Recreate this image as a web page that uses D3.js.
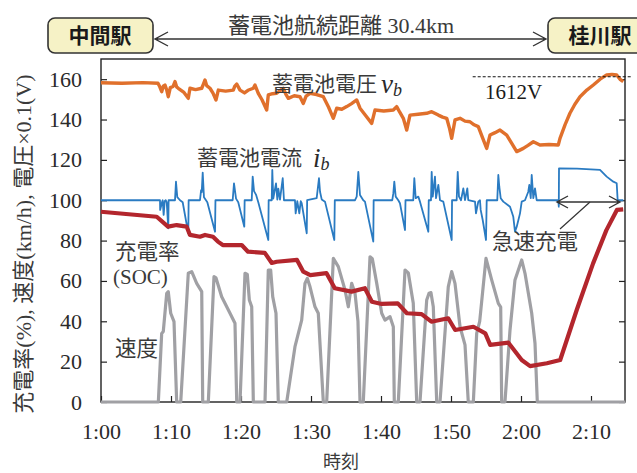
<!DOCTYPE html>
<html>
<head>
<meta charset="utf-8">
<script src="https://cdn.jsdelivr.net/npm/d3@7"></script>
<style>
  body { margin: 0; background: #fff; }
  svg { display: block; }
  .jp { font-family: "Noto Sans CJK JP", sans-serif; fill: #3a3a3a; }
  .sf { font-family: "Liberation Serif", "Noto Sans CJK JP", serif; fill: #2a2a2a; }
</style>
</head>
<body>
<svg id="chart" width="637" height="473"></svg>
<script>
// minutes after 1:00 -> value
let xTickLabels = ["1:00", "1:10", "1:20", "1:30", "1:40", "1:50", "2:00", "2:10"];
let yTicks = [0, 20, 40, 60, 80, 100, 120, 140, 160];

// 蓄電池電圧 (x0.1 V)
let voltage = [[0,158.2],[3,158.0],[6,158.3],[8.14,158],[8.4,156.2],[8.67,153.8],[8.9,156.5],[9.14,157.1],[9.4,154.5],[9.61,151.3],[9.9,155.8],[10.3,156.4],[10.57,158.8],[10.8,156.2],[11.04,155.5],[11.8,153.6],[12.47,150.5],[12.71,155.5],[13.5,154.8],[14.39,155.5],[14.6,157.3],[14.86,159.6],[15.1,156.8],[15.57,155.5],[16.0,153.1],[16.43,149.7],[16.76,154.6],[17.8,154.1],[18.9,154.6],[19.1,156.4],[19.39,157.6],[19.86,154.6],[20.5,153.2],[21.0,154.5],[21.76,155.5],[22.0,157.1],[22.47,153],[23.0,149.8],[23.67,144.7],[23.9,152.2],[24.5,152.8],[25.1,153],[25.6,154.4],[26.04,155.5],[26.4,152.6],[26.76,150.5],[27.6,151.8],[28.43,151.3],[28.9,148],[29.3,151.6],[29.86,153],[30.8,152.4],[31.76,151.3],[32.5,146.2],[33.19,140.6],[33.67,145.6],[34.4,145.1],[35.1,146.4],[35.8,147.9],[36.53,149.7],[37.0,145.6],[37.8,142.0],[38.67,138.1],[39.14,144.7],[40.4,144.2],[41.76,144.7],[42.24,146.4],[42.7,143.5],[43.19,140.6],[43.67,134.8],[44.14,142.2],[45.3,142.6],[46.53,143.1],[47.24,143.9],[48.19,142.2],[48.8,141.2],[49.39,140.6],[49.8,135.5],[50.1,130.7],[50.57,139.8],[51.29,140.6],[52.0,139.2],[52.71,138.9],[53.3,137.4],[53.9,136.5],[54.5,131.0],[55.1,125.7],[55.57,132.3],[56.3,133.5],[57.0,134.8],[57.96,132.3],[58.7,128.0],[59.39,124.1],[60.33,125.7],[61.0,127.2],[61.76,129.0],[62.71,127.4],[64.0,127.6],[65.33,127.4],[65.57,130.7],[66.3,137.5],[66.99,143.1],[67.7,147.6],[68.43,151.3],[69.4,154.6],[70.33,157.1],[71.3,160.0],[72.24,162.1],[73.0,162.4],[73.67,162.1],[74.2,159.8],[74.61,158.8]];

// 蓄電池電流 (offset 100)
let current = [[0,100],[8.43,100],[8.45,95.2],[8.75,99.5],[8.81,100],[8.95,92.7],[9.1,99.5],[9.24,100],[9.39,99],[9.61,86.1],[9.66,100],[10.57,100],[10.71,109.2],[10.9,101.5],[11.29,100],[11.67,99],[12.47,83.6],[12.52,100],[14.14,100],[14.3,105],[14.39,104],[14.53,113.7],[14.71,101.5],[15.19,99],[16.29,84.4],[16.35,100],[18.81,100],[19.0,108.4],[19.29,100.8],[19.61,99],[20.47,86.9],[20.52,100],[21.53,100],[21.67,111.7],[21.86,104.5],[22.14,102.8],[22.47,99],[23.9,80.3],[23.95,100],[24.39,100],[24.47,115.0],[24.61,100.8],[25.0,108.4],[25.19,100.3],[25.33,105.8],[25.57,100.3],[25.96,110.9],[26.14,100],[27.71,100],[27.81,93.5],[28.04,99.5],[28.33,93.5],[28.53,99.5],[28.67,98.5],[29.39,83.6],[29.45,100],[30.81,101],[31.14,110.9],[31.29,104.2],[31.53,100.4],[32.0,99.3],[33.33,80.3],[33.4,100],[36.29,100],[36.53,101.8],[36.76,114.1],[37.0,102.6],[37.47,100],[37.71,99.3],[38.9,79.5],[38.95,100],[41.61,100],[41.76,103.4],[41.9,109.2],[42.1,101.8],[42.47,100],[42.71,98.5],[43.43,85.2],[43.5,100],[44.61,100],[44.76,110.9],[44.96,101],[45.33,101.8],[45.57,99.3],[46.76,84.4],[46.82,100],[47.14,100],[47.24,114.1],[47.39,101.8],[47.71,111.7],[47.86,101],[48.19,107.6],[48.43,100],[48.9,99.3],[50.1,80.3],[50.15,100],[50.81,100],[50.96,114.1],[51.14,101.8],[51.43,100],[51.76,105.9],[52.0,100.1],[52.33,105.9],[52.47,100],[53.43,99.3],[53.57,93.5],[53.9,99.3],[54.14,100],[54.24,95.2],[54.53,90.2],[55.0,80.3],[55.1,100],[56.61,100],[56.76,112.5],[56.9,106.7],[57.1,101],[57.47,99.3],[58.43,96.8],[58.67,94.3],[58.9,91.8],[59.14,84.4],[59.39,86.9],[59.86,93.5],[60.1,99.3],[60.57,100],[61.04,104.2],[61.19,107.6],[61.39,101],[61.53,112.5],[61.76,101],[62.0,105.9],[62.24,100],[65.33,100],[65.4,96.8],[65.43,115.8],[68,115.7],[71.29,115.0],[72.24,111.7],[73.19,109.2],[73.67,108.4],[73.81,100],[74.61,100]];

// 充電率 SOC (%)
let soc = [[0,94.3],[7.96,91.8],[9.57,86.9],[10.81,87.7],[12.24,86.9],[12.71,82.8],[14.14,81.9],[14.86,82.8],[16.0,81.9],[16.7,79.5],[17.4,77.8],[20.1,77.8],[21.0,74.5],[23.4,73.9],[24.4,68.9],[25.1,69.5],[28.0,70.4],[28.9,64.6],[29.9,62.9],[32.2,63.9],[33.4,56.4],[35.8,54.7],[37.7,56.4],[38.7,49.7],[40.1,48.6],[42.4,48.9],[43.7,44.0],[45.8,43.6],[47.2,39.8],[49.6,41.5],[50.6,35.7],[53.2,37.3],[54.9,34.0],[55.6,28.3],[58.2,29.4],[60.1,20.8],[61.3,17.8],[63.7,19.2],[65.6,20.8],[67.96,45.6],[70.3,68.7],[72.2,85.2],[73.7,95.2],[74.6,95.5]];

// 速度 (km/h)
let speed = [[0,0],[8.19,0],[8.67,34.0],[8.9,35],[9.39,53.9],[9.61,54.7],[9.96,44.0],[10.43,39.8],[10.81,0],[11.39,0],[12.47,63.8],[12.96,64.6],[13.67,58.8],[14.39,54.7],[14.53,0],[15.33,0],[16.14,62.1],[16.43,61.5],[17.24,52.2],[18.43,44.0],[19.14,39.0],[19.39,0],[19.86,0],[20.57,63.8],[20.9,63.2],[21.19,50.6],[21.53,47.2],[21.76,0],[23.43,0],[23.9,65.4],[24.24,65.4],[24.53,52.2],[25.0,44.0],[25.33,0],[26.53,0],[27.71,27.4],[28.19,34.0],[28.67,40.6],[29.14,58.8],[29.47,61.3],[29.86,57.1],[30.57,47.2],[31.04,44.0],[31.76,0],[32.24,0],[33.19,71.2],[33.9,67.1],[34.86,55.5],[35.33,47.2],[35.81,58.8],[36.29,53.9],[36.71,40],[37.0,0],[37.47,0],[38.43,72.0],[38.76,71],[39.39,58.8],[40.1,44.0],[40.57,40.6],[41.29,42.3],[41.76,37.3],[41.9,0],[42.47,0],[43.43,65.4],[43.9,64],[44.61,48.9],[45.1,0],[45.57,0],[46.53,50.6],[46.86,53.9],[47.14,54.2],[47.47,47.2],[47.96,0],[48.43,0],[49.61,57.1],[50.1,64.6],[50.57,58.8],[51.29,37.3],[52.0,28.3],[52.47,0],[53.19,0],[53.67,34.0],[54.1,40],[55.0,71.2],[55.81,60.5],[56.76,48.9],[57.1,47],[57.24,0],[57.71,0],[58.43,35.7],[59.14,60.5],[60.1,70.4],[60.57,63.8],[61.53,44.0],[62.0,29.1],[62.33,0],[74.9,0]];

let margin = {top: 59, right: 12, bottom: 71, left: 101};
let width = 637 - margin.left - margin.right;
let height = 473 - margin.top - margin.bottom;

let svg = d3.select("#chart");
let g = svg.append("g")
    .attr("transform", "translate(" + margin.left + "," + margin.top + ")");

let x = d3.scaleLinear().domain([0, width / 7]).range([0, width]);
let y = d3.scaleLinear().domain([0, 170]).range([height, 0]);

// axes, ticks pointing inward
let xAxis = g.append("g")
    .attr("transform", "translate(0," + height + ")")
    .call(d3.axisBottom(x)
        .tickValues(xTickLabels.map((d, i) => i * 10))
        .tickFormat((d, i) => xTickLabels[i])
        .tickSizeInner(-6).tickSizeOuter(0).tickPadding(21));
let yAxis = g.append("g")
    .call(d3.axisLeft(y).tickValues(yTicks)
        .tickSizeInner(-6).tickSizeOuter(0).tickPadding(19));
let yAxisR = g.append("g")
    .attr("transform", "translate(" + width + ",0)")
    .call(d3.axisRight(y).tickValues(yTicks).tickFormat("")
        .tickSizeInner(-6).tickSizeOuter(0));
[xAxis, yAxis, yAxisR].forEach(a => {
    a.select(".domain").remove();
    a.selectAll("line").attr("stroke", "#222").attr("stroke-width", 1.2);
    a.selectAll("text").attr("class", "sf").style("font-size", "22px");
});

g.append("rect")
    .attr("width", width).attr("height", height)
    .attr("fill", "none").attr("stroke", "#222").attr("stroke-width", 1.4);

let line = d3.line().x(d => x(d[0])).y(d => y(d[1]));

function drawSeries(data, color, w) {
    g.append("path")
        .datum(data)
        .attr("d", line)
        .attr("fill", "none")
        .attr("stroke", color)
        .attr("stroke-width", w)
        .attr("stroke-linejoin", "round");
}
drawSeries(speed, "#a0a0a4", 3.2);
drawSeries(current, "#2a7bc2", 1.8);
drawSeries(soc, "#b3262d", 4.2);
drawSeries(voltage, "#e0702c", 3.4);

// 1612V reference
g.append("line")
    .attr("x1", x(53.1)).attr("x2", width + 6)
    .attr("y1", y(161.2)).attr("y2", y(161.2))
    .attr("stroke", "#111").attr("stroke-width", 1).attr("stroke-dasharray", "3,2");

// header: stations and range arrow
function station(x0, label) {
    svg.append("rect").attr("x", x0).attr("y", 18).attr("width", 105).attr("height", 35)
        .attr("rx", 7).attr("fill", "#f6f2c6").attr("stroke", "#333").attr("stroke-width", 1.6);
    svg.append("text").attr("class", "jp").attr("x", x0 + 52).attr("y", 43)
        .attr("text-anchor", "middle").style("font-size", "21px").style("font-weight", "bold")
        .style("fill", "#1a1a1a").text(label);
}
station(48, "中間駅");
station(548, "桂川駅");

function arrowLine(x1, x2, yy, head, hh) {
    let p = d3.path();
    p.moveTo(x1, yy); p.lineTo(x2, yy);
    p.moveTo(x1 + head, yy - hh); p.lineTo(x1, yy); p.lineTo(x1 + head, yy + hh);
    p.moveTo(x2 - head, yy - hh); p.lineTo(x2, yy); p.lineTo(x2 - head, yy + hh);
    svg.append("path").attr("d", p.toString()).attr("fill", "none")
        .attr("stroke", "#333").attr("stroke-width", 1.4);
}
arrowLine(155, 546, 39, 13, 7);
arrowLine(557, 620, 202, 11, 6);
svg.append("line").attr("x1", 590).attr("y1", 202).attr("x2", 560).attr("y2", 229)
    .attr("stroke", "#333").attr("stroke-width", 1.2);

let title = svg.append("text").attr("class", "sf").attr("x", 228).attr("y", 33)
    .style("font-size", "22px").style("fill", "#3a3a3a");
title.append("tspan").attr("class", "jp").text("蓄電池航続距離");
title.append("tspan").text(" 30.4km");

function label(tx, ty, txt, size) {
    svg.append("text").attr("class", "jp").attr("x", tx).attr("y", ty)
        .style("font-size", (size || 21.5) + "px").text(txt);
}
label(272, 91, "蓄電池電圧", 21);
label(197, 165, "蓄電池電流", 21);
label(492, 249, "急速充電");
label(115, 259, "充電率");
label(115, 356, "速度");
label(323, 468, "時刻", 18);

function symbol(tx, ty, main, sub) {
    let t = svg.append("text").attr("class", "sf").attr("x", tx).attr("y", ty)
        .style("font-style", "italic").style("font-size", "27px").style("fill", "#2a2a2a");
    t.append("tspan").text(main);
    t.append("tspan").attr("dy", 3).style("font-size", "18px").text(sub);
}
symbol(381, 93, "v", "b");
symbol(313, 167, "i", "b");

svg.append("text").attr("class", "sf").attr("x", 113).attr("y", 284)
    .style("font-size", "21px").style("fill", "#3a3a3a").text("(SOC)");
svg.append("text").attr("class", "sf").attr("x", 485).attr("y", 99)
    .style("font-size", "21px").style("fill", "#1a1a1a").text("1612V");

svg.append("text").attr("class", "sf")
    .attr("transform", "translate(31,244) rotate(-90)")
    .attr("text-anchor", "middle")
    .style("font-size", "22px").style("fill", "#3a3a3a")
    .text("充電率(%), 速度(km/h), 電圧×0.1(V)");
</script>
</body>
</html>
